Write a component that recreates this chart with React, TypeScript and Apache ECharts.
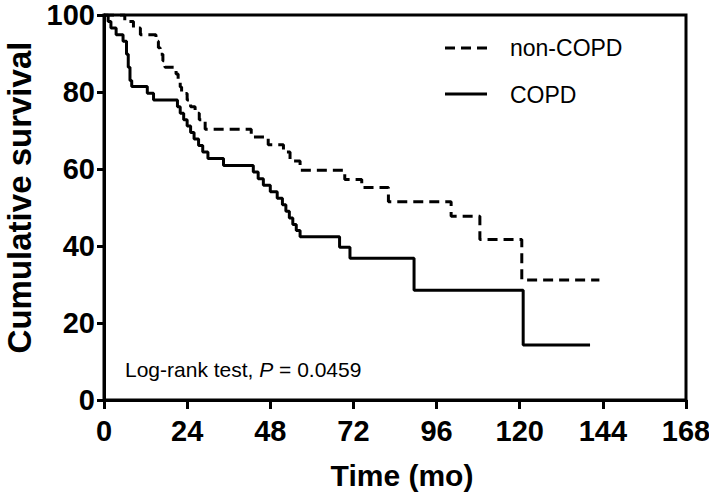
import React, { useEffect, useRef } from "react";
import * as echarts from "echarts";

const xTicks = [0, 24, 48, 72, 96, 120, 144, 168];
const yTicks = [0, 20, 40, 60, 80, 100];

const copdTimes = [0, 1.2, 2, 3.5, 5.5, 6.5, 7, 7.5, 8, 12.5, 14.3, 21.2, 22, 23, 24, 25, 26, 27.3, 28.5, 30, 34.5, 43.1, 44.5, 46, 48, 50, 51.5, 52.5, 53.5, 54.5, 55.5, 56.6, 68, 71, 89.5, 121, 140.3];
const copdSurvival = [100, 98.3, 96.6, 94.9, 93.2, 89.8, 86.4, 83, 81.4, 79.7, 77.9, 76.2, 74.5, 72.8, 71.2, 69.5, 67.8, 66.1, 64.4, 62.7, 60.9, 59.2, 57.5, 55.8, 54.1, 52.4, 50.7, 49, 47.3, 45.6, 44, 42.4, 39.7, 36.8, 28.5, 14.3, 14.3];

const nonCopdTimes = [0, 6, 8.5, 10.5, 15, 15.7, 16.2, 17, 17.6, 20.8, 21.4, 22, 22.4, 24, 25, 26.3, 27.5, 29.2, 42.5, 47.4, 51.8, 53.7, 56.6, 69.5, 74.4, 82.1, 100.2, 108.5, 120.6, 143];
const nonCopdSurvival = [100, 98.3, 96.6, 94.9, 93.2, 91.5, 89.8, 88.1, 86.4, 84.7, 83, 81.3, 79.6, 77.9, 76.2, 74.5, 72.8, 70.3, 68.3, 66.3, 64.4, 62.1, 59.7, 57.3, 55.2, 51.5, 47.7, 41.7, 31.2, 31.2];

const seriesNames = ["non-COPD", "COPD"];
const xTitle = "Time (mo)";
const yTitle = "Cumulative survival";
const annotation = "Log-rank test, ";
const pValue = "= 0.0459";

const FONT = "'Liberation Sans', Arial, sans-serif";

export default function App() {
  const ref = useRef<HTMLDivElement>(null);
  useEffect(() => {
    if (!ref.current) return;
    const chart = echarts.init(ref.current, undefined, { renderer: "svg" });
    const copd = copdTimes.map((t, i) => [t, copdSurvival[i]]);
    const nonCopd = nonCopdTimes.map((t, i) => [t, nonCopdSurvival[i]]);
    chart.setOption({
      animation: false,
      backgroundColor: "#ffffff",
      grid: {
        left: 104,
        right: 23,
        top: 15,
        bottom: 92,
        show: true,
        borderColor: "#000",
        borderWidth: 3,
        containLabel: false,
        outerBoundsMode: "none",
      },
      xAxis: {
        type: "value",
        min: xTicks[0],
        max: xTicks[xTicks.length - 1],
        interval: 24,
        name: xTitle,
        nameLocation: "middle",
        nameGap: 60,
        nameTextStyle: { fontFamily: FONT, fontWeight: "bold", fontSize: 30, color: "#000", padding: [0, 0, 0, 14] },
        axisLine: { lineStyle: { color: "#000", width: 3 } },
        axisTick: { length: 9, lineStyle: { color: "#000", width: 3 } },
        axisLabel: { margin: 16, fontFamily: FONT, fontWeight: "bold", fontSize: 29, color: "#000" },
        splitLine: { show: false },
      },
      yAxis: {
        type: "value",
        min: yTicks[0],
        max: yTicks[yTicks.length - 1],
        interval: 20,
        name: yTitle,
        nameLocation: "middle",
        nameGap: 66,
        nameTextStyle: { fontFamily: FONT, fontWeight: "bold", fontSize: 33, color: "#000", padding: [0, 0, 0, 20] },
        axisLine: { lineStyle: { color: "#000", width: 3 } },
        axisTick: { length: 7, lineStyle: { color: "#000", width: 3 } },
        axisLabel: { margin: 9, fontFamily: FONT, fontWeight: "bold", fontSize: 29, lineHeight: 22, color: "#000" },
        splitLine: { show: false },
      },
      series: [
        {
          name: seriesNames[0],
          type: "line",
          step: "end",
          symbol: "none",
          data: nonCopd,
          lineStyle: { color: "#000", width: 3, type: [10, 6] },
        },
        {
          name: seriesNames[1],
          type: "line",
          step: "end",
          symbol: "none",
          data: copd,
          lineStyle: { color: "#000", width: 3, type: "solid" },
        },
      ],
      graphic: [
        {
          type: "line",
          shape: { x1: 445, y1: 48, x2: 487, y2: 48 },
          style: { stroke: "#000", lineWidth: 3, lineDash: [10, 6] },
        },
        {
          type: "text",
          x: 510,
          y: 48,
          style: { text: seriesNames[0], fontFamily: FONT, fontSize: 23, fill: "#000", verticalAlign: "middle" },
        },
        {
          type: "line",
          shape: { x1: 445, y1: 94, x2: 487, y2: 94 },
          style: { stroke: "#000", lineWidth: 3 },
        },
        {
          type: "text",
          x: 510,
          y: 95,
          style: { text: seriesNames[1], fontFamily: FONT, fontSize: 23, fill: "#000", verticalAlign: "middle" },
        },
        {
          type: "text",
          x: 125,
          y: 369,
          style: {
            text: annotation + "{i|P} " + pValue,
            fontFamily: FONT,
            fontSize: 21,
            fill: "#000",
            verticalAlign: "middle",
            rich: {
              i: { fontFamily: FONT, fontSize: 21, fontStyle: "italic", fill: "#000" },
            },
          },
        },
      ],
    });
    return () => chart.dispose();
  }, []);
  return (
    <div
      ref={ref}
      style={{ position: "fixed", left: 0, top: 0, width: 709, height: 492, background: "#fff" }}
    />
  );
}
